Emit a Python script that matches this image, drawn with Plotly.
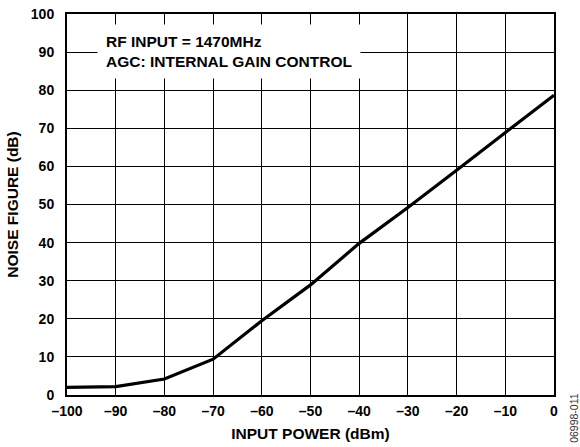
import plotly.graph_objects as go

input_power = [-100, -90, -80, -70, -60, -50, -40, -30, -20, -10, 0]
noise_figure = [2.0, 2.2, 4.2, 9.4, 19.5, 28.9, 39.8, 49.2, 59.0, 68.8, 78.7]

x_ticks = [-100, -90, -80, -70, -60, -50, -40, -30, -20, -10, 0]
x_tick_labels = ["–100", "–90", "–80", "–70", "–60", "–50", "–40", "–30", "–20", "–10", "0"]
y_ticks = [0, 10, 20, 30, 40, 50, 60, 70, 80, 90, 100]
y_tick_labels = [str(v) for v in y_ticks]

FONT = "Liberation Sans, Arial, sans-serif"

fig = go.Figure()
fig.add_trace(go.Scatter(
    x=input_power, y=noise_figure, mode="lines",
    line=dict(color="black", width=3.2), showlegend=False, hoverinfo="skip",
))

axis_common = dict(
    showgrid=True, gridcolor="black", gridwidth=1.2,
    showline=True, linecolor="black", linewidth=2, mirror=True,
    zeroline=False, ticks="", automargin=False,
    tickfont=dict(family=FONT, size=14, color="black", weight="bold"),
)

fig.update_xaxes(
    range=[-100, 0], tickvals=x_ticks, ticktext=x_tick_labels, ticklabelstandoff=2,
    title=dict(text="INPUT POWER (dBm)", font=dict(family=FONT, size=15.5, color="black", weight="bold"), standoff=10),
    **axis_common,
)
fig.update_yaxes(
    range=[0, 100], tickvals=y_ticks, ticktext=y_tick_labels, ticklabelstandoff=8,
    title=dict(text="NOISE FIGURE (dB)", font=dict(family=FONT, size=15.5, color="black", weight="bold"), standoff=8),
    **axis_common,
)

fig.add_annotation(
    xref="paper", yref="paper", x=0.062, y=0.974, xanchor="left", yanchor="top",
    text="RF INPUT = 1470MHz<br>AGC: INTERNAL GAIN CONTROL", align="left",
    showarrow=False, bgcolor="white", borderpad=8,
    font=dict(family=FONT, size=15.5, color="black", weight="bold"),
)
fig.add_annotation(
    xref="paper", yref="paper", x=1.041, y=-0.06, xanchor="center", yanchor="middle",
    text="06998-011", textangle=-90, showarrow=False,
    font=dict(family=FONT, size=10.5, color="#333333"),
)

fig.update_layout(
    width=580, height=447,
    margin=dict(l=67, r=26, t=14, b=52, autoexpand=False),
    paper_bgcolor="white", plot_bgcolor="white",
)

fig.write_html("out.html")
